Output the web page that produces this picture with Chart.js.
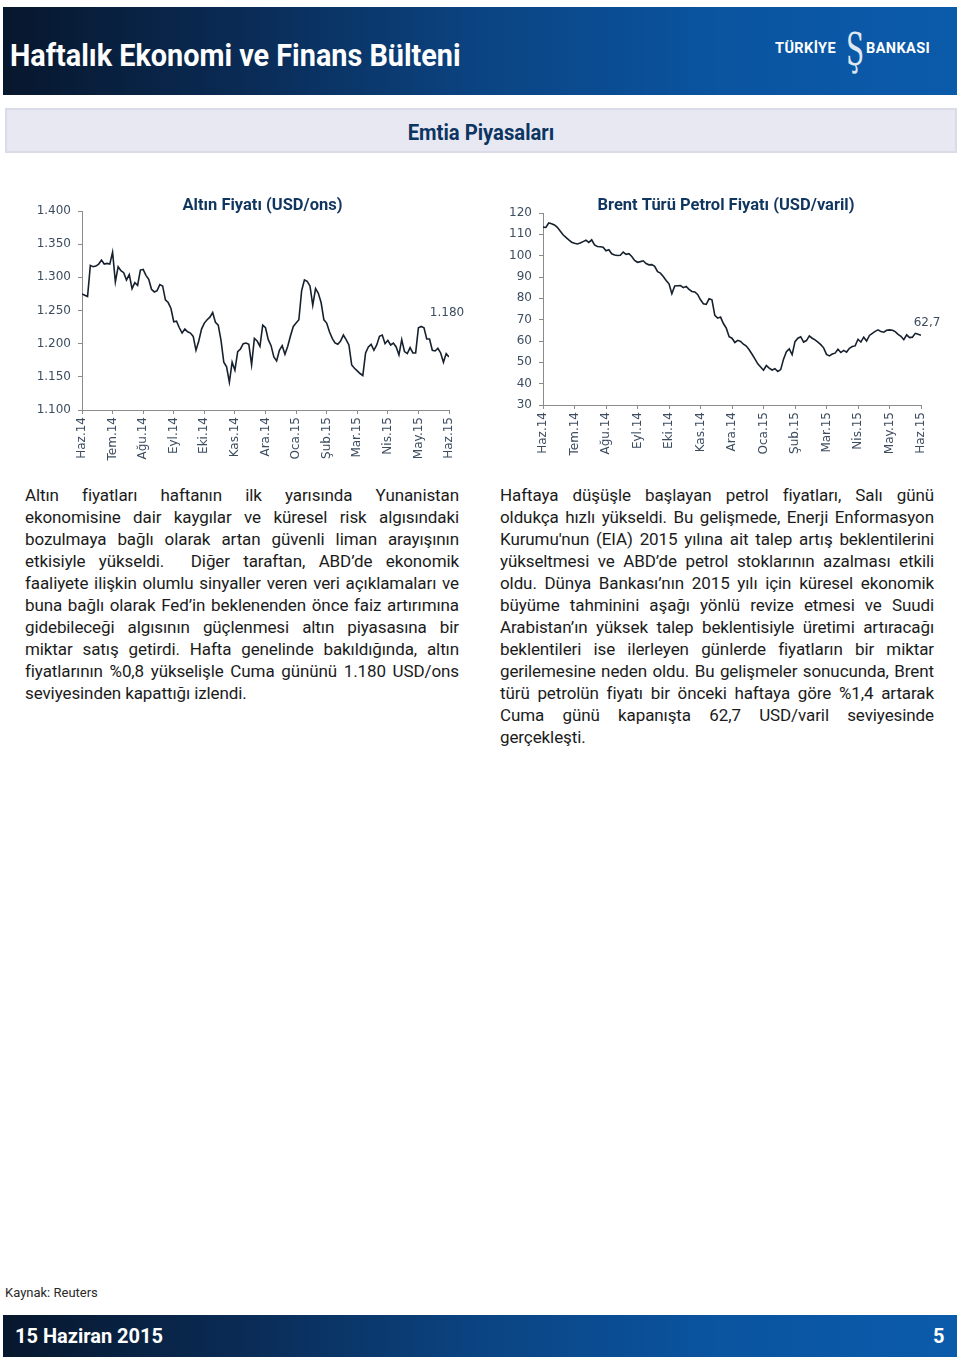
<!DOCTYPE html>
<html lang="tr">
<head>
<meta charset="utf-8">
<title>Emtia Piyasaları</title>
<script src="https://cdn.jsdelivr.net/npm/chart.js@4.4.1/dist/chart.umd.min.js"></script>
<style>
body { margin: 0; width: 960px; height: 1359px; position: relative; background: #fff; font-family: Roboto, "Noto Sans", sans-serif; overflow: hidden; }
.bar { position: absolute; left: 3px; width: 954px; background: linear-gradient(90deg, #07172d 0%, #0a2b55 25%, #0b4482 50%, #0a54a0 75%, #0b5bab 100%); color: #fff; }
#header { top: 7px; height: 88px; }
#header h1 { position: absolute; left: 7px; top: 29px; margin: 0; font-size: 32px; line-height: 38px; font-weight: 700; white-space: nowrap; transform: scaleX(0.9); transform-origin: left center; }
.logo { position: absolute; font-size: 14.5px; font-weight: 700; top: 33px; letter-spacing: 0.4px; }
.logo-s { position: absolute; left: 837px; top: 16px; width: 30px; text-align: center; font-family: "DejaVu Serif", serif; font-size: 44px; line-height: 54px; color: #dfe7f2; transform: scaleX(0.6); }
#section { position: absolute; left: 5px; top: 108px; width: 952px; height: 45px; box-sizing: border-box; background: #e8e8f2; border: 2px solid #dadae8; }
#section span { position: absolute; left: 0; right: 0; top: 10px; text-align: center; font-size: 22px; font-weight: 700; color: #0d3561; transform: scaleX(0.92); }
canvas { position: absolute; }
.col { position: absolute; top: 484px; width: 434px; font-size: 17px; letter-spacing: -0.1px; line-height: 22px; color: #1b1b1b; }
.col div { white-space: nowrap; text-align: justify; text-align-last: justify; }
.col div.last { text-align-last: left; }
#source { position: absolute; left: 5px; top: 1285px; font-size: 13px; color: #2a2a2a; }
#footer { top: 1315px; height: 42px; }
#footer span { position: absolute; top: 9px; font-size: 20px; font-weight: 700; }
</style>
</head>
<body>
<div id="header" class="bar">
  <h1>Haftalık Ekonomi ve Finans Bülteni</h1>
  <span class="logo" style="left:772px">TÜRKİYE</span>
  <span class="logo-s">Ş</span>
  <span class="logo" style="left:863px">BANKASI</span>
</div>
<div id="section"><span>Emtia Piyasaları</span></div>

<canvas id="goldChart" width="450" height="280" style="left:20px; top:190px"></canvas>
<canvas id="oilChart" width="460" height="280" style="left:490px; top:190px"></canvas>

<div class="col" style="left:25px">
  <div>Altın fiyatları haftanın ilk yarısında Yunanistan</div>
  <div>ekonomisine dair kaygılar ve küresel risk algısındaki</div>
  <div>bozulmaya bağlı olarak artan güvenli liman arayışının</div>
  <div>etkisiyle yükseldi.&nbsp; Diğer taraftan, ABD’de ekonomik</div>
  <div>faaliyete ilişkin olumlu sinyaller veren veri açıklamaları ve</div>
  <div>buna bağlı olarak Fed’in beklenenden önce faiz artırımına</div>
  <div>gidebileceği algısının güçlenmesi altın piyasasına bir</div>
  <div>miktar satış getirdi. Hafta genelinde bakıldığında, altın</div>
  <div>fiyatlarının %0,8 yükselişle Cuma gününü 1.180 USD/ons</div>
  <div class="last">seviyesinden kapattığı izlendi.</div>
</div>
<div class="col" style="left:500px">
  <div>Haftaya düşüşle başlayan petrol fiyatları, Salı günü</div>
  <div>oldukça hızlı yükseldi. Bu gelişmede, Enerji Enformasyon</div>
  <div>Kurumu'nun (EIA) 2015 yılına ait talep artış beklentilerini</div>
  <div>yükseltmesi ve ABD’de petrol stoklarının azalması etkili</div>
  <div>oldu. Dünya Bankası’nın 2015 yılı için küresel ekonomik</div>
  <div>büyüme tahminini aşağı yönlü revize etmesi ve Suudi</div>
  <div>Arabistan’ın yüksek talep beklentisiyle üretimi artıracağı</div>
  <div>beklentileri ise ilerleyen günlerde fiyatların bir miktar</div>
  <div>gerilemesine neden oldu. Bu gelişmeler sonucunda, Brent</div>
  <div>türü petrolün fiyatı bir önceki haftaya göre %1,4 artarak</div>
  <div>Cuma günü kapanışta 62,7 USD/varil seviyesinde</div>
  <div class="last">gerçekleşti.</div>
</div>

<div id="source">Kaynak: Reuters</div>
<div id="footer" class="bar">
  <span style="left:12px">15 Haziran 2015</span>
  <span style="left:930px">5</span>
</div>

<script>
// month ticks on the x axis, Haz.14 .. Haz.15
const monthLabels = ['Haz.14', 'Tem.14', 'Ağu.14', 'Eyl.14', 'Eki.14', 'Kas.14', 'Ara.14',
    'Oca.15', 'Şub.15', 'Mar.15', 'Nis.15', 'May.15', 'Haz.15'];

// values, 11 readings per month, last one is the close
const samplesPerMonth = 11;

const goldValues = [
    1275, 1273, 1271, 1318, 1316, 1317, 1320, 1326, 1320, 1321, 1320,   // Haz
    1338, 1293, 1316, 1310, 1307, 1296, 1304, 1283, 1292, 1288, 1311,   // Tem
    1312, 1303, 1297, 1282, 1278, 1280, 1289, 1287, 1266, 1262, 1253,   // Ağu
    1233, 1234, 1224, 1216, 1222, 1218, 1216, 1211, 1190, 1204, 1222,   // Eyl
    1231, 1236, 1240, 1247, 1232, 1228, 1205, 1172, 1165, 1142, 1172,   // Eki
    1160, 1188, 1192, 1200, 1201, 1199, 1168, 1208, 1204, 1196, 1228,   // Kas
    1224, 1206, 1197, 1180, 1174, 1190, 1197, 1184, 1196, 1212, 1226,   // Ara
    1231, 1236, 1280, 1296, 1294, 1287, 1258, 1283, 1276, 1262, 1236,   // Oca
    1231, 1218, 1208, 1201, 1199, 1204, 1213, 1206, 1198, 1168, 1163,   // Şub
    1159, 1155, 1152, 1186, 1195, 1199, 1190, 1198, 1211, 1213, 1200,   // Mar
    1205, 1198, 1201, 1195, 1183, 1206, 1188, 1185, 1194, 1186, 1186,   // Nis
    1224, 1226, 1224, 1207, 1207, 1190, 1189, 1193, 1186, 1172, 1185,   // May
    1180
];

const oilValues = [
    113.4, 113.2, 115.3, 115.0, 114.4, 113.3, 111.6, 109.8, 108.6, 107.4, 106.3,   // Haz
    105.8, 105.5, 105.9, 106.6, 107.3, 106.2, 107.4, 105.0, 104.3, 104.2, 104.0,   // Tem
    102.3, 102.8, 100.9, 100.3, 100.1, 100.2, 101.7, 100.6, 100.9, 99.6, 97.8,     // Ağu
    96.9, 97.2, 97.6, 96.3, 95.7, 95.8, 95.0, 92.5, 91.8, 90.2, 88.4,              // Eyl
    86.8, 82.2, 85.8, 85.9, 86.0, 85.0, 85.6, 84.2, 83.2, 83.0, 81.8,              // Eki
    79.3, 77.5, 77.2, 79.8, 79.3, 72.0, 70.7, 71.2, 68.2, 66.0, 62.0,              // Kas
    61.3, 59.3, 60.3, 59.8, 58.5, 57.6, 55.9, 53.8, 51.6, 49.3, 47.8,              // Ara
    46.3, 48.5, 47.3, 46.4, 47.0, 45.7, 46.6, 51.5, 55.0, 56.3, 53.6,              // Oca
    59.7, 61.3, 62.0, 59.5, 60.2, 62.4, 61.3, 60.5, 59.5, 58.3, 56.8,              // Şub
    53.7, 53.0, 53.9, 54.3, 56.1, 54.6, 55.6, 54.8, 56.6, 57.4, 57.7,              // Mar
    60.8, 59.5, 61.8, 60.0, 62.6, 63.6, 64.5, 65.2, 64.4, 64.1, 65.0,              // Nis
    65.2, 65.0, 64.4, 63.1, 62.2, 60.6, 62.9, 61.6, 61.8, 63.6, 63.2,              // May
    62.7
];

const goldTicks = { min: 1100, max: 1400, step: 50 };
const oilTicks = { min: 30, max: 120, step: 10 };

const tickFont = { family: 'DejaVu Sans', size: 12 };
const tickColor = '#3d4d60';
const axisColor = '#8c8c8c';

function toPoints(values) {
    return values.map((v, i) => ({ x: i / samplesPerMonth, y: v }));
}

// title over the plot and the closing-value label next to the last point
const chartText = {
    id: 'chartText',
    afterDraw(chart, args, opts) {
        const ctx = chart.ctx;
        const area = chart.chartArea;
        ctx.save();
        ctx.textAlign = 'center';
        ctx.textBaseline = 'middle';
        ctx.fillStyle = '#10365f';
        ctx.font = 'bold 16.5px Roboto';
        ctx.fillText(opts.title, (area.left + area.right) / 2 + opts.titleShift, opts.titleY);

        const data = chart.data.datasets[0].data;
        const last = data[data.length - 1];
        const x = chart.scales.x.getPixelForValue(last.x);
        const y = chart.scales.y.getPixelForValue(last.y);
        ctx.fillStyle = tickColor;
        ctx.font = '12px "DejaVu Sans"';
        ctx.fillText(opts.label, x + opts.dx, y + opts.dy);
        ctx.restore();
    }
};

function makeChart(id, values, ticks, fmt, box) {
    return new Chart(document.getElementById(id), {
        type: 'line',
        data: {
            datasets: [{
                data: toPoints(values),
                borderColor: '#17212e',
                borderWidth: 1.6,
                pointRadius: 0,
                tension: 0
            }]
        },
        options: {
            responsive: false,
            animation: false,
            layout: { padding: { top: box.top, right: box.right, left: 0, bottom: 0 } },
            plugins: {
                legend: { display: false },
                tooltip: { enabled: false },
                chartText: {
                    title: box.title, titleShift: box.titleShift, titleY: 16,
                    label: fmt(values[values.length - 1]), dx: box.dx, dy: box.dy
                }
            },
            scales: {
                x: {
                    type: 'linear',
                    min: 0,
                    max: monthLabels.length - 1,
                    afterFit: s => { s.height = box.xHeight; },
                    border: { color: axisColor, width: 1 },
                    grid: { drawOnChartArea: false, color: axisColor, tickLength: 4 },
                    ticks: {
                        stepSize: 1,
                        autoSkip: false,
                        maxRotation: 90,
                        minRotation: 90,
                        padding: 3,
                        color: tickColor,
                        font: tickFont,
                        callback: v => monthLabels[v]
                    }
                },
                y: {
                    min: ticks.min,
                    max: ticks.max,
                    afterFit: s => { s.width = box.yWidth; },
                    border: { color: axisColor, width: 1 },
                    grid: { drawOnChartArea: false, color: axisColor, tickLength: 4 },
                    ticks: {
                        stepSize: ticks.step,
                        padding: 7,
                        color: tickColor,
                        font: tickFont,
                        callback: v => fmt(v)
                    }
                }
            }
        },
        plugins: [chartText]
    });
}

makeChart('goldChart', goldValues, goldTicks, v => (v / 1000).toFixed(3), {
    title: 'Altın Fiyatı (USD/ons)', titleShift: -3,
    top: 21, right: 21, yWidth: 62, xHeight: 60, dx: -2, dy: -44
});

makeChart('oilChart', oilValues, oilTicks, v => v % 1 === 0 ? String(v) : v.toFixed(1).replace('.', ','), {
    title: 'Brent Türü Petrol Fiyatı (USD/varil)', titleShift: -6,
    top: 23, right: 29, yWidth: 53, xHeight: 65, dx: 6, dy: -12
});
</script>
</body>
</html>
